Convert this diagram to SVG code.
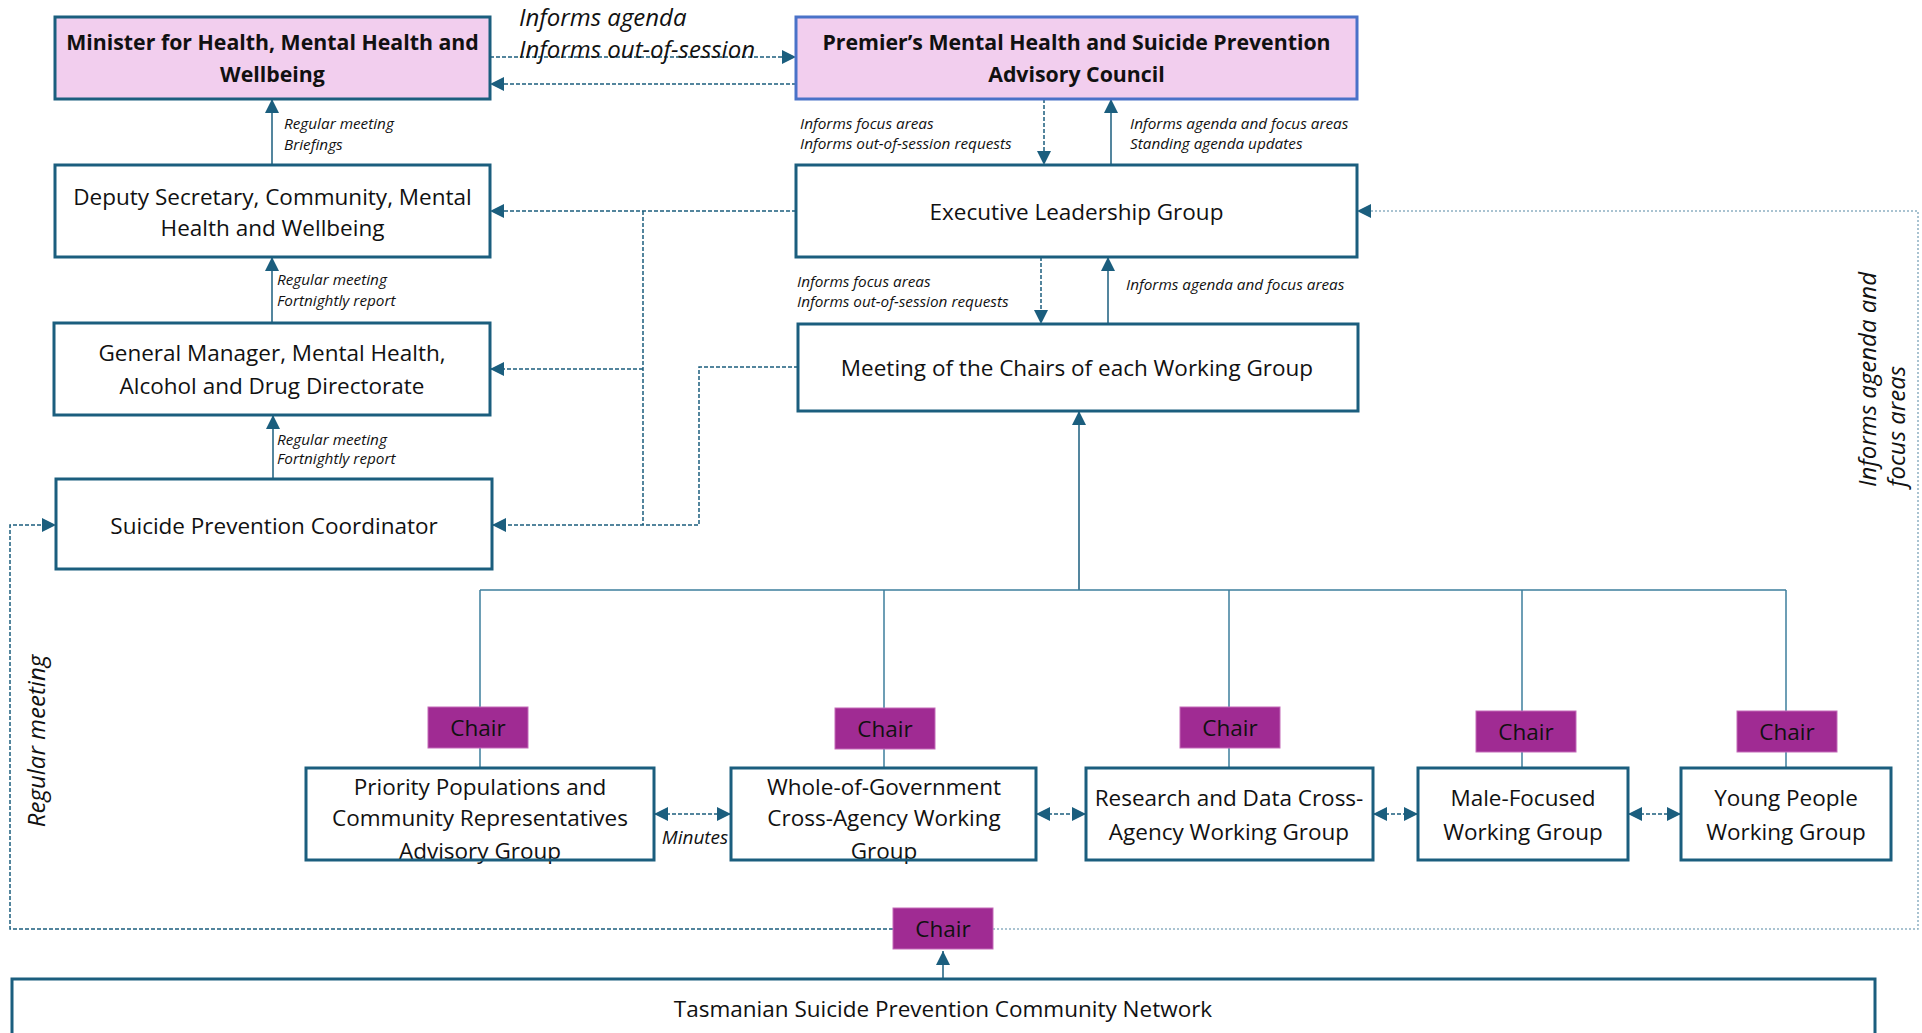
<svg xmlns="http://www.w3.org/2000/svg" width="1922" height="1033" viewBox="0 0 1922 1033">
<defs>
<marker id="ah" viewBox="0 0 10 10" refX="10" refY="5" markerWidth="14" markerHeight="16" markerUnits="userSpaceOnUse" orient="auto-start-reverse"><path d="M0,0 L10,5 L0,10 z" fill="#1B5E7E"/></marker>
<style>
.box{fill:#fff;stroke:#1B5E7E;stroke-width:3}
.pink{fill:#F2CEEE;stroke:#1B5E7E;stroke-width:3}
.pinkb{fill:#F2CEEE;stroke:#4A72C8;stroke-width:3}
.chair{fill:#A02B93;stroke:#C36BB8;stroke-width:1}
.t{font-family:"Open Sans","Liberation Sans",sans-serif;font-size:22.5px;fill:#111;text-anchor:middle}
.tb{font-family:"Open Sans","Liberation Sans",sans-serif;font-size:21.3px;font-weight:bold;fill:#111;text-anchor:middle}
.s{font-family:"Open Sans","Liberation Sans",sans-serif;font-size:15.3px;font-style:italic;fill:#111}
.m{font-family:"Open Sans","Liberation Sans",sans-serif;font-size:24px;font-style:italic;fill:#111}
.solid{fill:none;stroke:#1B5E7E;stroke-width:1.5}
.dash{fill:none;stroke:#1B5E7E;stroke-width:1.5;stroke-dasharray:4 2}
.dot{fill:none;stroke:#8DB0C2;stroke-width:1.5;stroke-dasharray:2 2}
.bus{fill:none;stroke:#3C7E9C;stroke-width:1.5}
</style>
</defs>

<g id="connectors">
<line class="dash" x1="490" y1="57" x2="796" y2="57" marker-end="url(#ah)"/>
<line class="dash" x1="796" y1="84" x2="490" y2="84" marker-end="url(#ah)"/>
<line class="solid" x1="272" y1="165" x2="272" y2="99" marker-end="url(#ah)"/>
<line class="solid" x1="272" y1="323" x2="272" y2="257" marker-end="url(#ah)"/>
<line class="solid" x1="273" y1="479" x2="273" y2="415" marker-end="url(#ah)"/>
<line class="dash" x1="1044" y1="99" x2="1044" y2="165" marker-end="url(#ah)"/>
<line class="solid" x1="1111" y1="165" x2="1111" y2="99" marker-end="url(#ah)"/>
<line class="dash" x1="1041" y1="257" x2="1041" y2="324" marker-end="url(#ah)"/>
<line class="solid" x1="1108" y1="324" x2="1108" y2="257" marker-end="url(#ah)"/>
<line class="dash" x1="796" y1="211" x2="490" y2="211" marker-end="url(#ah)"/>
<polyline class="dash" points="643,211 643,525"/>
<line class="dash" x1="643" y1="369" x2="490" y2="369" marker-end="url(#ah)"/>
<polyline class="dash" points="798,367 699,367 699,525 492,525" marker-end="url(#ah)"/>
<line class="solid" x1="1079" y1="590" x2="1079" y2="411" stroke-width="2.5" marker-end="url(#ah)"/>
<polyline class="bus" points="480,590 1786,590"/>
<line class="bus" x1="480" y1="590" x2="480" y2="707"/>
<line class="bus" x1="884" y1="590" x2="884" y2="708"/>
<line class="bus" x1="1229" y1="590" x2="1229" y2="707"/>
<line class="bus" x1="1522" y1="590" x2="1522" y2="711"/>
<line class="bus" x1="1786" y1="590" x2="1786" y2="711"/>
<line class="bus" x1="480" y1="748" x2="480" y2="768"/>
<line class="bus" x1="884" y1="749" x2="884" y2="768"/>
<line class="bus" x1="1229" y1="748" x2="1229" y2="768"/>
<line class="bus" x1="1522" y1="752" x2="1522" y2="768"/>
<line class="bus" x1="1786" y1="752" x2="1786" y2="768"/>
<line class="dash" x1="654" y1="814" x2="731" y2="814" marker-start="url(#ah)" marker-end="url(#ah)"/>
<line class="dash" x1="1036" y1="814" x2="1086" y2="814" marker-start="url(#ah)" marker-end="url(#ah)"/>
<line class="dash" x1="1373" y1="814" x2="1418" y2="814" marker-start="url(#ah)" marker-end="url(#ah)"/>
<line class="dash" x1="1628" y1="814" x2="1681" y2="814" marker-start="url(#ah)" marker-end="url(#ah)"/>
<polyline class="dash" points="893,929 10,929 10,525 56,525" marker-end="url(#ah)"/>
<polyline class="dot" points="993,929 1918,929 1918,211 1357,211" marker-end="url(#ah)"/>
<line class="solid" x1="943" y1="979" x2="943" y2="951" marker-end="url(#ah)"/>
</g>

<g id="labels">
<text class="m" x="519" y="26">Informs agenda</text>
<text class="m" x="519" y="58">Informs out-of-session</text>
<text class="s" x="284" y="129">Regular meeting</text>
<text class="s" x="284" y="150">Briefings</text>
<text class="s" x="277" y="285">Regular meeting</text>
<text class="s" x="277" y="306">Fortnightly report</text>
<text class="s" x="277" y="445">Regular meeting</text>
<text class="s" x="277" y="464">Fortnightly report</text>
<text class="s" x="800" y="129">Informs focus areas</text>
<text class="s" x="800" y="149">Informs out-of-session requests</text>
<text class="s" x="1130" y="129">Informs agenda and focus areas</text>
<text class="s" x="1130" y="149">Standing agenda updates</text>
<text class="s" x="797" y="287">Informs focus areas</text>
<text class="s" x="797" y="307">Informs out-of-session requests</text>
<text class="s" x="1126" y="290">Informs agenda and focus areas</text>
<text class="s" x="695" y="844" style="font-size:19px;text-anchor:middle">Minutes</text>
<text class="m" transform="translate(45,741) rotate(-90)" style="text-anchor:middle">Regular meeting</text>
<text class="m" transform="translate(1876,487) rotate(-90)">Informs agenda and</text>
<text class="m" transform="translate(1905,487) rotate(-90)">focus areas</text>
</g>

<g id="minister"><rect class="pink" x="55" y="17" width="435" height="82"/>
<text class="tb" x="272.5" y="50">Minister for Health, Mental Health and</text><text class="tb" x="272.5" y="82">Wellbeing</text></g>
<g id="premier"><rect class="pinkb" x="796" y="17" width="561" height="82"/>
<text class="tb" x="1076.5" y="50">Premier’s Mental Health and Suicide Prevention</text><text class="tb" x="1076.5" y="82">Advisory Council</text></g>
<g id="deputy"><rect class="box" x="55" y="165" width="435" height="92"/>
<text class="t" x="272.5" y="205">Deputy Secretary, Community, Mental</text><text class="t" x="272.5" y="236">Health and Wellbeing</text></g>
<g id="elg"><rect class="box" x="796" y="165" width="561" height="92"/>
<text class="t" x="1076.5" y="220">Executive Leadership Group</text></g>
<g id="gm"><rect class="box" x="54" y="323" width="436" height="92"/>
<text class="t" x="272" y="361">General Manager, Mental Health,</text><text class="t" x="272" y="394">Alcohol and Drug Directorate</text></g>
<g id="meeting"><rect class="box" x="798" y="324" width="560" height="87"/>
<text class="t" x="1077" y="376">Meeting of the Chairs of each Working Group</text></g>
<g id="spc"><rect class="box" x="56" y="479" width="436" height="90"/>
<text class="t" x="274" y="534">Suicide Prevention Coordinator</text></g>

<g id="chair1"><rect class="chair" x="428" y="707" width="100" height="41"/><text class="t" x="478" y="736">Chair</text></g>
<g id="chair2"><rect class="chair" x="835" y="708" width="100" height="41"/><text class="t" x="885" y="737">Chair</text></g>
<g id="chair3"><rect class="chair" x="1180" y="707" width="100" height="41"/><text class="t" x="1230" y="736">Chair</text></g>
<g id="chair4"><rect class="chair" x="1476" y="711" width="100" height="41"/><text class="t" x="1526" y="740">Chair</text></g>
<g id="chair5"><rect class="chair" x="1737" y="711" width="100" height="41"/><text class="t" x="1787" y="740">Chair</text></g>

<g id="priority"><text class="t" x="480" y="795">Priority Populations and</text><text class="t" x="480" y="826">Community Representatives</text><text class="t" x="480" y="859">Advisory Group</text><rect class="box" x="306" y="768" width="348" height="92" style="fill:none"/></g>
<g id="wog"><text class="t" x="884" y="795">Whole-of-Government</text><text class="t" x="884" y="826">Cross-Agency Working</text><text class="t" x="884" y="859">Group</text><rect class="box" x="731" y="768" width="305" height="92" style="fill:none"/></g>
<g id="research"><rect class="box" x="1086" y="768" width="287" height="92"/><text class="t" x="1229" y="806">Research and Data Cross-</text><text class="t" x="1229" y="840">Agency Working Group</text></g>
<g id="male"><rect class="box" x="1418" y="768" width="210" height="92"/><text class="t" x="1523" y="806">Male-Focused</text><text class="t" x="1523" y="840">Working Group</text></g>
<g id="young"><rect class="box" x="1681" y="768" width="210" height="92"/><text class="t" x="1786" y="806">Young People</text><text class="t" x="1786" y="840">Working Group</text></g>

<g id="chair-network"><rect class="chair" x="893" y="908" width="100" height="41"/><text class="t" x="943" y="937">Chair</text></g>
<g id="network"><rect class="box" x="12" y="979" width="1863" height="80"/><text class="t" x="943" y="1017">Tasmanian Suicide Prevention Community Network</text></g>
</svg>
